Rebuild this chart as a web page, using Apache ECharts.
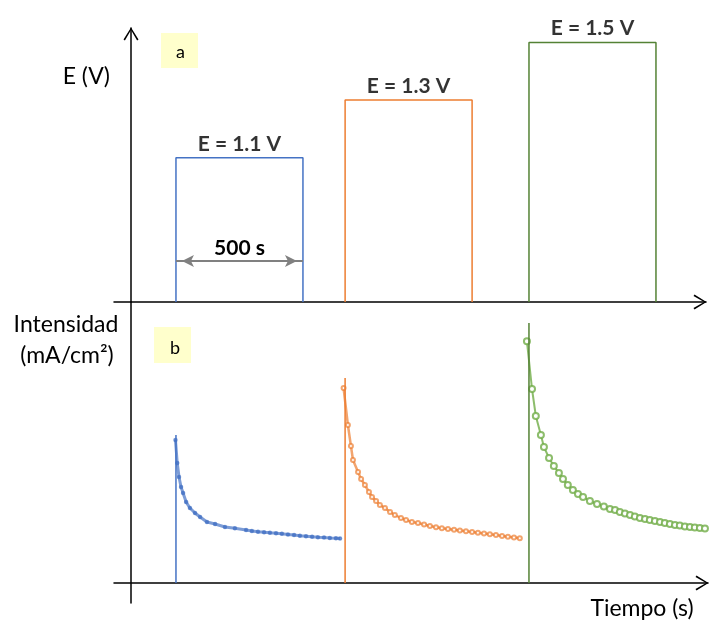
<!DOCTYPE html>
<html>
<head>
<meta charset="utf-8">
<script src="https://cdn.jsdelivr.net/npm/echarts@6/dist/echarts.min.js"></script>
<style>
html,body{margin:0;padding:0;background:#fff;}
#chart{width:710px;height:623px;}
</style>
</head>
<body>
<div id="chart"></div>
<script>
// ---- Data ----
const pulseStarts = [177, 843, 1567];          // s
const pulseDuration = 500;                      // s
const potentials = [1.1, 1.3, 1.5];             // V
const restPotential = 0.6;                      // V (baseline of the schematic)
const potentialLabels = ['E = 1.1 V', 'E = 1.3 V', 'E = 1.5 V'];
const durationLabel = '500 s';
const durationArrowE = 0.742;
const stepPeaks = [14.8, 20.5, 26.0];           // top of current step (mA/cm2)

const blueCurve = [
  [175,14.3],[182,12.0],[189,10.6],[197,9.6],[205,9.0],[217,8.1],[232,7.5],[252,7.0],
  [272,6.6],[299,6.1],[331,5.9],[370,5.6],[409,5.47],[453,5.3],[476,5.2],[500,5.13],
  [524,5.07],[547,5.02],[571,4.97],[594,4.92],[618,4.86],[642,4.8],[665,4.73],[689,4.68],
  [713,4.63],[736,4.58],[760,4.54],[783,4.5],[807,4.47],[823,4.45]
];
const orangeCurve = [
  [837,19.5],[854,15.8],[866,13.7],[874,12.3],[894,11.1],[906,10.4],[921,9.8],[937,9.1],
  [949,8.6],[965,8.2],[980,7.8],[1000,7.5],[1020,7.1],[1039,6.8],[1063,6.5],[1083,6.3],
  [1106,6.1],[1130,6.0],[1154,5.85],[1177,5.7],[1201,5.57],[1224,5.48],[1248,5.4],[1272,5.32],
  [1295,5.25],[1319,5.17],[1343,5.1],[1366,5.03],[1390,4.95],[1413,4.87],[1437,4.8],[1461,4.7],
  [1484,4.62],[1508,4.55],[1531,4.47]
];
const greenCurve = [
  [1559,24.17],[1579,19.4],[1594,16.7],[1614,14.8],[1626,13.6],[1646,12.5],[1665,11.7],[1685,11.0],
  [1701,10.4],[1720,9.8],[1740,9.3],[1760,8.9],[1780,8.6],[1807,8.2],[1835,7.9],[1862,7.65],
  [1886,7.4],[1906,7.3],[1925,7.1],[1945,6.95],[1965,6.8],[1984,6.65],[2004,6.5],[2024,6.4],
  [2043,6.3],[2063,6.2],[2083,6.1],[2102,6.0],[2122,5.9],[2142,5.8],[2161,5.75],[2181,5.65],
  [2201,5.6],[2220,5.55],[2240,5.5],[2260,5.45]
];

// ---- Styles ----
const FONT = 'Lato, "Open Sans", sans-serif';
const pulseColors = ['#4472C4', '#ED7D31', '#548235'];
const curveColors = ['rgba(68,114,196,0.7)', 'rgba(237,125,49,0.7)', 'rgba(112,173,71,0.8)'];
const curves = [blueCurve, orangeCurve, greenCurve];
const chevron = 'path://M7.5,0 L15,12 L13.6,13 L7.5,2.4 L1.4,13 L0,12 Z';

const chart = echarts.init(document.getElementById('chart'), null, {renderer: 'canvas'});

const axisArrow = {
  show: true,
  onZero: true,
  symbol: ['none', chevron],
  symbolSize: [15, 13],
  symbolOffset: [0, -6],
  lineStyle: {color: '#000', width: 1.5}
};
const plainAxisLine = {show: true, onZero: true, lineStyle: {color: '#000', width: 1.5}};
const hidden = {axisTick: {show: false}, axisLabel: {show: false}, splitLine: {show: false}};

const series = [];
pulseStarts.forEach((s, i) => {
  const e = s + pulseDuration;
  const s1 = {
    type: 'line', xAxisIndex: 0, yAxisIndex: 0, symbol: 'none', silent: true,
    lineStyle: {color: pulseColors[i], width: 1.5},
    data: [[s, restPotential], [s, potentials[i]], [e, potentials[i]], [e, restPotential]],
    z: 3
  };
  if (i === 0) {
    s1.markLine = {
      silent: true,
      symbol: ['arrow', 'arrow'],
      symbolSize: [9, 12],
      symbolOffset: [[0, 6], [0, 6]],
      lineStyle: {color: '#808080', width: 2, type: 'solid'},
      label: {show: true, position: 'middle', formatter: durationLabel, color: '#000',
              fontWeight: 'bold', fontSize: 21, fontFamily: FONT, distance: 2},
      data: [[{coord: [s, durationArrowE]}, {coord: [e, durationArrowE]}]]
    };
  }
  series.push(s1);
  series.push({
    type: 'scatter', xAxisIndex: 0, yAxisIndex: 0, silent: true,
    symbolSize: 1, itemStyle: {color: 'rgba(0,0,0,0)'},
    label: {show: true, position: 'top', distance: 3, formatter: potentialLabels[i],
            color: '#000', fontWeight: 'bold', fontSize: 21, fontFamily: FONT},
    data: [[s + pulseDuration / 2, potentials[i]]]
  });
  // current step (vertical rise)
  series.push({
    type: 'line', xAxisIndex: 1, yAxisIndex: 1, symbol: 'none', silent: true,
    lineStyle: {color: pulseColors[i], width: 1.5},
    data: [[s, 0], [s, stepPeaks[i]]], z: 4
  });
});
const curveSym = [
  {symbol: 'circle', symbolSize: 3, width: 3},
  {symbol: 'emptyCircle', symbolSize: 4, width: 2.5},
  {symbol: 'emptyCircle', symbolSize: 6, width: 2}
];
curves.forEach((c, i) => {
  series.push({
    type: 'line', xAxisIndex: 1, yAxisIndex: 1, silent: true,
    symbol: curveSym[i].symbol, symbolSize: curveSym[i].symbolSize, showAllSymbol: true,
    itemStyle: {color: curveColors[i], borderColor: curveColors[i], borderWidth: 1.5},
    lineStyle: {color: curveColors[i], width: curveSym[i].width},
    data: c, z: 3
  });
});

const option = {
  animation: false,
  backgroundColor: '#fff',
  grid: [
    {left: 114, right: 4, top: 28, height: 274},
    {left: 114, right: 2, top: 302, height: 301}
  ],
  xAxis: [
    Object.assign({type: 'value', gridIndex: 0, min: -67, max: 2264, axisLine: axisArrow}, hidden),
    Object.assign({type: 'value', gridIndex: 1, min: -67, max: 2272, axisLine: axisArrow}, hidden)
  ],
  yAxis: [
    Object.assign({type: 'value', gridIndex: 0, min: restPotential, max: 1.55, axisLine: axisArrow}, hidden),
    Object.assign({type: 'value', gridIndex: 1, min: -2, max: 28.1, axisLine: plainAxisLine}, hidden)
  ],
  graphic: [
    {type: 'rect', shape: {x: 161, y: 33, width: 37, height: 35}, style: {fill: '#ffffcc'}},
    {type: 'text', x: 180.5, y: 52, style: {text: 'a', fontSize: 18, fontFamily: FONT, fill: '#000', align: 'center', verticalAlign: 'middle'}},
    {type: 'rect', shape: {x: 154, y: 327, width: 37, height: 36}, style: {fill: '#ffffcc'}},
    {type: 'text', x: 175, y: 348, style: {text: 'b', fontSize: 18, fontFamily: FONT, fill: '#000', align: 'center', verticalAlign: 'middle'}},
    {type: 'text', x: 110, y: 77, style: {text: 'E (V)', fontSize: 23, fontFamily: FONT, fill: '#000', align: 'right', verticalAlign: 'middle'}},
    {type: 'text', x: 66, y: 325, style: {text: 'Intensidad', fontSize: 23, fontFamily: FONT, fill: '#000', align: 'center', verticalAlign: 'middle'}},
    {type: 'text', x: 67, y: 356, style: {text: '(mA/cm²)', fontSize: 23, fontFamily: FONT, fill: '#000', align: 'center', verticalAlign: 'middle'}},
    {type: 'text', x: 642, y: 609, style: {text: 'Tiempo (s)', fontSize: 23, fontFamily: FONT, fill: '#000', align: 'center', verticalAlign: 'middle'}}
  ],
  series: series
};
chart.setOption(option);
</script>
</body>
</html>
